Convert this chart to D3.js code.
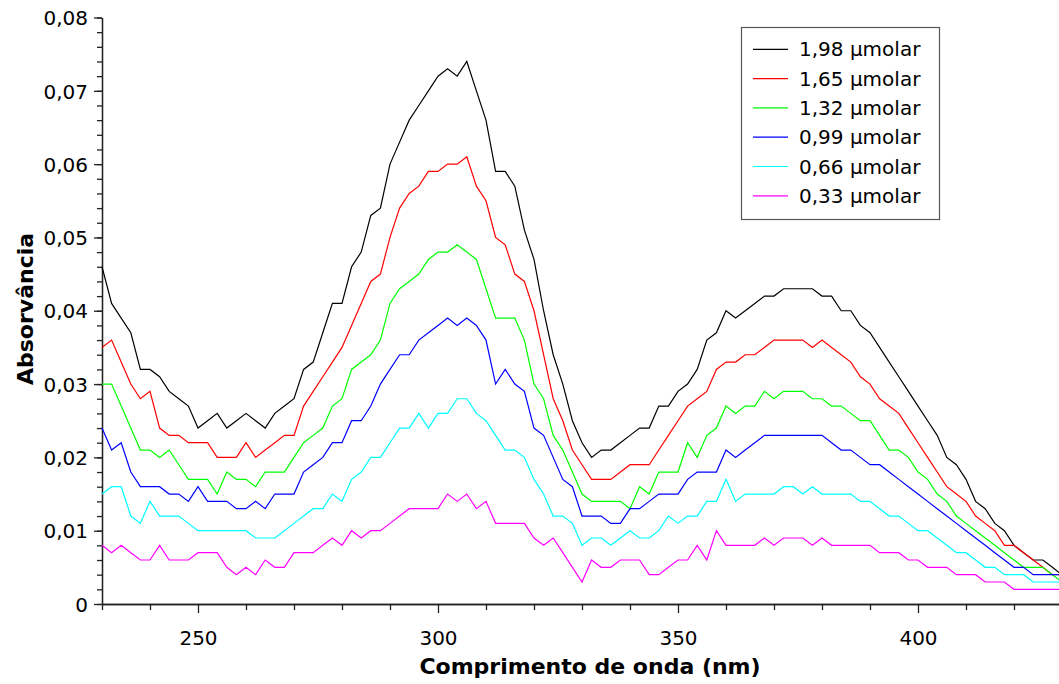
<!DOCTYPE html>
<html>
<head>
<meta charset="utf-8">
<script src="https://cdn.jsdelivr.net/npm/d3@7"></script>
<style>
    body { margin: 0; background: #fff; }
    svg text { font-family: "DejaVu Sans", Verdana, sans-serif; fill: #000; }
</style>
</head>
<body>
<div id="spectra-viz"></div>
<script>
// Wavelength grid (nm): 230..430 every 2 nm
const wlStart = 230;
const wlStep = 2;

// Absorbance readings, in units of 0.001
const abs198 = [46, 41, 39, 37, 32, 32, 31, 29, 28, 27, 24, 25, 26, 24, 25, 26, 25, 24, 26, 27, 28,
    32, 33, 37, 41, 41, 46, 48, 53, 54, 60, 63, 66, 68, 70, 72, 73, 72, 74, 70, 66, 59,
    59, 57, 51, 47, 40, 34, 30, 25, 22, 20, 21, 21, 22, 23, 24, 24, 27, 27, 29, 30, 32,
    36, 37, 40, 39, 40, 41, 42, 42, 43, 43, 43, 43, 42, 42, 40, 40, 38, 37, 35, 33, 31,
    29, 27, 25, 23, 20, 19, 17, 14, 13, 11, 10, 8, 7, 6, 6, 5, 4];
const abs165 = [35, 36, 33, 30, 28, 29, 24, 23, 23, 22, 22, 22, 20, 20, 20, 22, 20, 21, 22, 23, 23,
    27, 29, 31, 33, 35, 38, 41, 44, 45, 50, 54, 56, 57, 59, 59, 60, 60, 61, 57, 55, 50,
    49, 45, 44, 40, 34, 28, 25, 21, 19, 17, 17, 17, 18, 19, 19, 19, 21, 23, 25, 27, 28,
    29, 32, 33, 33, 34, 34, 35, 36, 36, 36, 36, 35, 36, 35, 34, 33, 31, 30, 28, 27, 26,
    24, 22, 20, 18, 16, 15, 14, 12, 11, 10, 8, 8, 7, 6, 5, 4, 4];
const abs132 = [30, 30, 27, 24, 21, 21, 20, 21, 19, 17, 17, 17, 15, 18, 17, 17, 16, 18, 18, 18, 20,
    22, 23, 24, 27, 28, 32, 33, 34, 36, 41, 43, 44, 45, 47, 48, 48, 49, 48, 47, 43, 39,
    39, 39, 36, 30, 28, 23, 21, 18, 15, 14, 14, 14, 14, 13, 16, 15, 18, 18, 18, 22, 20,
    23, 24, 27, 26, 27, 27, 29, 28, 29, 29, 29, 28, 28, 27, 27, 26, 25, 25, 23, 21, 21,
    20, 18, 17, 15, 14, 12, 11, 10, 9, 8, 7, 6, 5, 5, 5, 4, 3];
const abs099 = [24, 21, 22, 18, 16, 16, 16, 15, 15, 14, 16, 14, 14, 14, 13, 13, 14, 13, 15, 15, 15,
    18, 19, 20, 22, 22, 25, 25, 27, 30, 32, 34, 34, 36, 37, 38, 39, 38, 39, 38, 36, 30,
    32, 30, 29, 24, 23, 20, 17, 16, 12, 12, 12, 11, 11, 13, 13, 14, 15, 15, 15, 17, 18,
    18, 18, 21, 20, 21, 22, 23, 23, 23, 23, 23, 23, 23, 22, 21, 21, 20, 19, 19, 18, 17,
    16, 15, 14, 13, 12, 11, 10, 9, 8, 7, 6, 5, 5, 4, 4, 4, 4];
const abs066 = [15, 16, 16, 12, 11, 14, 12, 12, 12, 11, 10, 10, 10, 10, 10, 10, 9, 9, 9, 10, 11,
    12, 13, 13, 15, 14, 17, 18, 20, 20, 22, 24, 24, 26, 24, 26, 26, 28, 28, 26, 25, 23,
    21, 21, 20, 17, 15, 12, 12, 11, 8, 9, 9, 8, 9, 10, 9, 9, 10, 12, 11, 12, 12,
    14, 14, 17, 14, 15, 15, 15, 15, 16, 16, 15, 16, 15, 15, 15, 15, 14, 14, 13, 12, 12,
    11, 10, 10, 9, 8, 7, 7, 6, 5, 5, 4, 4, 4, 3, 3, 3, 3];
const abs033 = [8, 7, 8, 7, 6, 6, 8, 6, 6, 6, 7, 7, 7, 5, 4, 5, 4, 6, 5, 5, 7,
    7, 7, 8, 9, 8, 10, 9, 10, 10, 11, 12, 13, 13, 13, 13, 15, 14, 15, 13, 14, 11,
    11, 11, 11, 9, 8, 9, 7, 5, 3, 6, 5, 5, 6, 6, 6, 4, 4, 5, 6, 6, 8,
    6, 10, 8, 8, 8, 8, 9, 8, 9, 9, 9, 8, 9, 8, 8, 8, 8, 8, 7, 7, 7,
    6, 6, 5, 5, 5, 4, 4, 4, 3, 3, 3, 2, 2, 2, 2, 2, 2];

const seriesNames = ['1,98 µmolar', '1,65 µmolar', '1,32 µmolar', '0,99 µmolar', '0,66 µmolar', '0,33 µmolar'];
const seriesValues = [abs198, abs165, abs132, abs099, abs066, abs033];
const seriesColors = ['#000000', '#ff0000', '#00ff00', '#0000ff', '#00ffff', '#ff00ff'];

const xTicks = [250, 300, 350, 400];
const yTicks = [0, 0.01, 0.02, 0.03, 0.04, 0.05, 0.06, 0.07, 0.08];
const yTickLabels = ['0', '0,01', '0,02', '0,03', '0,04', '0,05', '0,06', '0,07', '0,08'];

const width = 1059;
const height = 684;
const margin = { top: 17.5, right: -3, bottom: 80, left: 102 };
const axisColor = '#222';

const svg = d3.select('#spectra-viz')
    .append('svg')
    .attr('width', width)
    .attr('height', height);

const xScale = d3.scaleLinear()
    .domain([230, 430])
    .range([margin.left, width - margin.right]);

const yScale = d3.scaleLinear()
    .domain([0, 0.08])
    .range([height - margin.bottom, margin.top]);

// Minor ticks first, majors drawn on top
svg.append('g')
    .attr('class', 'x-minor')
    .attr('transform', `translate(0,${yScale(0)})`)
    .call(d3.axisBottom(xScale)
        .tickValues(d3.range(230, 431, 10).filter(v => !xTicks.includes(v)))
        .tickSize(6).tickSizeOuter(0).tickFormat(''));

svg.append('g')
    .attr('class', 'y-minor')
    .attr('transform', `translate(${xScale(230)},0)`)
    .call(d3.axisLeft(yScale)
        .tickValues(d3.range(0, 41, 1).map(i => i * 0.002))
        .tickSize(5).tickSizeOuter(0).tickFormat(''));

const xAxis = svg.append('g')
    .attr('class', 'x-axis')
    .attr('transform', `translate(0,${yScale(0)})`)
    .call(d3.axisBottom(xScale)
        .tickValues(xTicks)
        .tickSize(9).tickSizeOuter(0)
        .tickFormat(d => d));

xAxis.selectAll('text')
    .attr('y', 41)
    .attr('dy', 0)
    .style('font-size', '20px');

const yAxis = svg.append('g')
    .attr('class', 'y-axis')
    .attr('transform', `translate(${xScale(230)},0)`)
    .call(d3.axisLeft(yScale)
        .tickValues(yTicks)
        .tickSize(8).tickSizeOuter(0)
        .tickFormat((d, i) => yTickLabels[i]));

yAxis.selectAll('text')
    .attr('x', -14)
    .attr('dy', '0.36em')
    .style('font-size', '20px');

svg.selectAll('.domain, .tick line')
    .attr('stroke', axisColor)
    .attr('stroke-width', 1.3);

// Axis titles
svg.append('text')
    .attr('x', 590)
    .attr('y', 674)
    .attr('text-anchor', 'middle')
    .style('font-size', '22px')
    .style('font-weight', 'bold')
    .text('Comprimento de onda (nm)');

svg.append('text')
    .attr('transform', 'rotate(-90)')
    .attr('x', -309)
    .attr('y', 33)
    .attr('text-anchor', 'middle')
    .style('font-size', '22px')
    .style('font-weight', 'bold')
    .text('Absorvância');

// Spectra
const line = d3.line()
    .x((d, i) => xScale(wlStart + i * wlStep))
    .y(d => yScale(d / 1000));

seriesValues.forEach((vals, k) => {
    svg.append('path')
        .datum(vals)
        .attr('class', 'line')
        .attr('d', line)
        .style('fill', 'none')
        .style('stroke', seriesColors[k])
        .style('stroke-width', 1.2);
});

// Legend
const legend = svg.append('g')
    .attr('class', 'legend')
    .attr('transform', 'translate(741,27)');

legend.append('rect')
    .attr('x', 0.5)
    .attr('y', 0.5)
    .attr('width', 198)
    .attr('height', 192)
    .style('fill', '#fff')
    .style('stroke', '#555')
    .style('stroke-width', 1.2);

const rows = legend.selectAll('.legend-row')
    .data(seriesNames)
    .enter()
    .append('g')
    .attr('class', 'legend-row')
    .attr('transform', (d, i) => `translate(0,${22.3 + i * 29.3})`);

rows.append('line')
    .attr('x1', 12)
    .attr('x2', 47)
    .style('stroke', (d, i) => seriesColors[i])
    .style('stroke-width', 1.2);

rows.append('text')
    .attr('x', 58)
    .attr('y', 7)
    .style('font-size', '20px')
    .text(d => d);
</script>
</body>
</html>
